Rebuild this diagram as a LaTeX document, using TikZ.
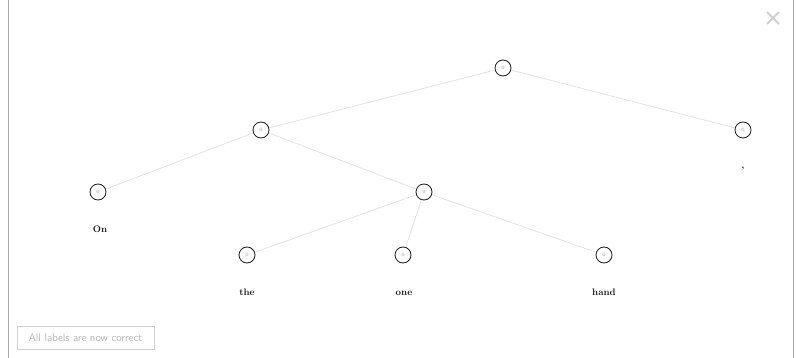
\documentclass[tikz,border=0pt]{standalone}
\usepackage{tikz}
\usepackage{xcolor}
\usetikzlibrary{positioning}
\definecolor{ink}{HTML}{1A1A1A}
\definecolor{edgegray}{HTML}{E2E2E2}
\definecolor{framegray}{HTML}{A8A8A8}
\definecolor{zerogray}{HTML}{8A8A8A}
\definecolor{btngray}{HTML}{D0D0D0}
\definecolor{btntext}{HTML}{B4B4B4}
\tikzset{
  treenode/.style={
    draw=ink, fill=white, line width=0.8pt, circle,
    inner sep=0pt, minimum size=16pt,
    font=\fontsize{5}{6}\selectfont, text=zerogray
  },
  leaflabel/.style={
    font=\bfseries\fontsize{9.5}{11}\selectfont, text=ink, inner sep=1pt, anchor=base
  },
  edge/.style={draw=edgegray, line width=0.8pt}
}
\begin{document}
\begin{tikzpicture}[x=1pt,y=-1pt]
  \useasboundingbox (0,0) rectangle (797,358);
  % frame lines
  \draw[framegray, line width=1pt] (8.5,0) -- (8.5,358);
  \draw[framegray, line width=1pt] (793,0) -- (793,358);
  % close mark
  \draw[btngray, line width=1.8pt] (767,12) -- (779,24) (779,12) -- (767,24);
  % tree
  \node[treenode] (root) at (503,68) {0};
  \node[treenode] (lhs) at (261,130) {0};
  \node[treenode] (comma) at (743,130) {0};
  \node[treenode] (on) at (98,192) {0};
  \node[treenode] (rhs) at (424,192) {0};
  \node[treenode] (the) at (247,255) {0};
  \node[treenode] (one) at (403,255) {0};
  \node[treenode] (hand) at (604,255) {0};
  \path[edge] (root) -- (lhs);
  \path[edge] (root) -- (comma);
  \path[edge] (lhs) -- (on);
  \path[edge] (lhs) -- (rhs);
  \path[edge] (rhs) -- (the);
  \path[edge] (rhs) -- (one);
  \path[edge] (rhs) -- (hand);
  % words
  \node[leaflabel] (onword) at (100,232) {On};
  \node[leaflabel] (theword) at (247,295) {the};
  \node[leaflabel] (oneword) at (404,295) {one};
  \node[leaflabel] (handword) at (604,295) {hand};
  \node[leaflabel] (commaword) at (743,169) {,};
  % status button
  \node[draw=btngray, line width=0.8pt, minimum width=137pt, minimum height=23pt,
        font=\sffamily\fontsize{11}{13}\selectfont, text=btntext] (status) at (85.5,337.5)
    {All labels are now correct};
  \draw[btngray, line width=1.2pt] (status.south west) -- (status.south east);
\end{tikzpicture}
\end{document}
